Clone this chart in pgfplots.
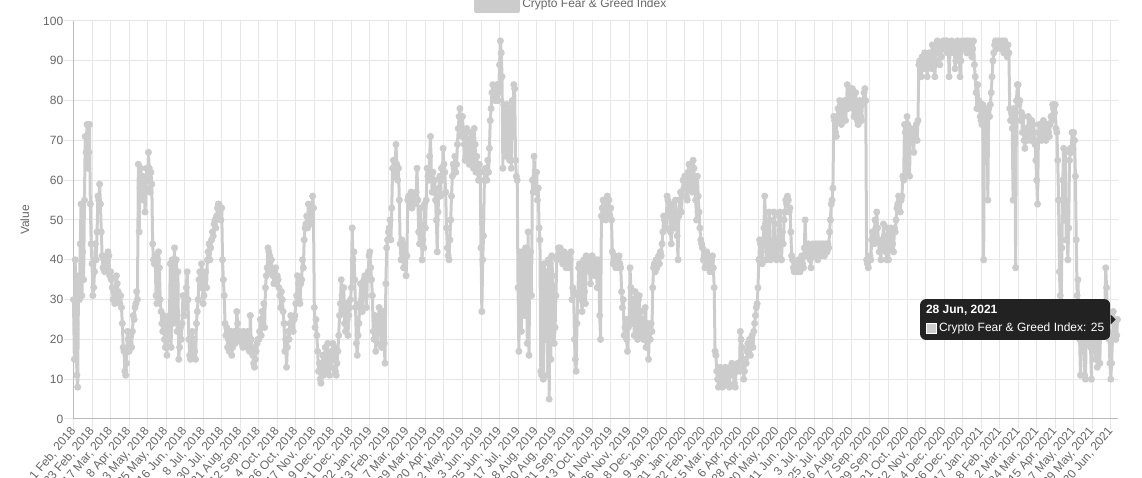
\documentclass[border=0pt]{standalone}
\usepackage{fontspec}
\setmainfont{Liberation Sans}
\usepackage{pgfplots}
\usepackage{pgfplotstable}
\pgfplotsset{compat=1.18}
\definecolor{txt}{HTML}{666666}
\definecolor{grd}{HTML}{E6E6E6}
\definecolor{axl}{HTML}{BBBBBB}
\definecolor{lg}{RGB}{204,204,205}
\definecolor{ttbg}{HTML}{222222}
\setlength{\fboxsep}{0pt}
\setlength{\fboxrule}{0.75pt}
\pgfplotstableread[header=false,row sep=\\]{
30\\15\\40\\24\\11\\8\\36\\30\\44\\54\\31\\42\\35\\55\\71\\67\\74\\63\\67\\74\\54\\44\\
39\\31\\33\\37\\44\\40\\47\\56\\55\\59\\54\\47\\41\\38\\40\\37\\38\\41\\40\\42\\41\\36\\
37\\35\\33\\30\\32\\29\\31\\36\\34\\32\\30\\29\\31\\28\\24\\18\\17\\12\\11\\14\\22\\20\\
17\\19\\21\\18\\22\\26\\25\\28\\29\\32\\30\\64\\47\\58\\63\\56\\61\\55\\60\\52\\58\\63\\
60\\67\\63\\57\\62\\59\\44\\40\\39\\41\\31\\29\\40\\42\\38\\30\\27\\24\\22\\26\\20\\18\\
25\\16\\20\\22\\26\\39\\18\\40\\24\\38\\43\\25\\40\\22\\37\\15\\18\\23\\20\\24\\31\\26\\
26\\30\\33\\37\\30\\20\\16\\15\\18\\22\\16\\20\\17\\15\\24\\27\\30\\35\\37\\33\\39\\36\\
29\\31\\35\\37\\33\\40\\42\\44\\40\\43\\45\\47\\46\\49\\50\\48\\51\\53\\54\\54\\52\\50\\
53\\40\\35\\31\\24\\21\\23\\18\\20\\17\\19\\22\\16\\18\\20\\22\\19\\21\\27\\24\\20\\22\\
20\\21\\19\\18\\22\\20\\19\\21\\18\\22\\19\\17\\26\\20\\18\\16\\14\\13\\15\\17\\19\\20\\
20\\22\\25\\21\\27\\24\\29\\23\\33\\36\\38\\43\\42\\41\\37\\40\\37\\36\\34\\37\\38\\35\\
36\\35\\33\\31\\28\\32\\30\\27\\24\\17\\20\\13\\18\\22\\20\\24\\26\\23\\25\\22\\25\\26\\
29\\31\\36\\34\\30\\29\\34\\35\\40\\38\\45\\48\\49\\51\\48\\54\\50\\52\\49\\53\\56\\53\\
28\\23\\25\\21\\17\\12\\14\\10\\9\\13\\16\\11\\15\\18\\14\\12\\19\\14\\11\\16\\13\\17\\
19\\15\\18\\12\\11\\14\\17\\21\\26\\29\\35\\31\\27\\33\\24\\22\\29\\25\\21\\26\\28\\30\\
33\\48\\40\\42\\35\\28\\19\\16\\21\\24\\29\\34\\30\\27\\33\\35\\36\\31\\28\\35\\37\\41\\
42\\38\\35\\31\\22\\20\\26\\17\\21\\19\\25\\28\\26\\22\\18\\23\\27\\19\\14\\34\\43\\45\\
47\\48\\50\\45\\53\\63\\65\\61\\62\\69\\64\\60\\63\\55\\44\\40\\45\\43\\38\\44\\42\\36\\
41\\55\\56\\54\\55\\57\\53\\55\\56\\54\\55\\57\\63\\55\\47\\44\\53\\47\\40\\45\\43\\54\\
48\\55\\63\\61\\60\\66\\71\\62\\57\\62\\57\\60\\55\\50\\42\\52\\58\\61\\56\\63\\60\\68\\
64\\62\\57\\48\\43\\41\\40\\45\\50\\56\\61\\64\\63\\66\\62\\64\\69\\73\\76\\78\\74\\71\\
76\\72\\69\\65\\66\\73\\70\\67\\64\\69\\72\\66\\64\\63\\73\\69\\62\\66\\63\\60\\64\\62\\
43\\27\\40\\46\\60\\63\\62\\60\\65\\62\\68\\75\\78\\82\\84\\81\\83\\80\\82\\84\\80\\82\\
89\\95\\92\\86\\63\\79\\72\\70\\66\\79\\69\\75\\65\\78\\63\\80\\71\\84\\83\\65\\61\\60\\
33\\17\\42\\40\\22\\42\\36\\41\\26\\43\\42\\19\\47\\16\\40\\42\\31\\60\\57\\66\\61\\57\\
62\\55\\58\\48\\45\\12\\11\\38\\10\\39\\32\\20\\37\\11\\40\\5\\39\\15\\41\\36\\27\\19\\
23\\31\\40\\41\\43\\42\\43\\41\\40\\39\\41\\42\\39\\38\\40\\41\\38\\39\\40\\42\\30\\33\\
32\\20\\15\\12\\24\\31\\38\\39\\36\\30\\27\\31\\40\\32\\29\\41\\38\\39\\40\\37\\34\\38\\
41\\40\\39\\36\\40\\38\\33\\40\\37\\26\\20\\51\\53\\55\\52\\54\\50\\53\\56\\52\\55\\51\\
53\\50\\42\\39\\40\\41\\38\\39\\38\\40\\41\\39\\38\\32\\28\\30\\21\\23\\25\\20\\17\\23\\
25\\38\\33\\28\\24\\30\\21\\32\\26\\23\\20\\30\\31\\22\\27\\21\\25\\20\\23\\28\\18\\21\\
24\\15\\22\\20\\24\\22\\33\\38\\39\\37\\40\\38\\40\\41\\39\\42\\41\\44\\47\\51\\50\\48\\
48\\56\\55\\53\\51\\47\\44\\53\\54\\51\\48\\55\\50\\46\\40\\51\\55\\57\\52\\56\\60\\58\\
61\\59\\56\\55\\62\\64\\60\\58\\62\\57\\65\\63\\58\\55\\50\\61\\56\\52\\48\\45\\44\\43\\
40\\41\\38\\39\\42\\41\\40\\39\\37\\38\\40\\41\\38\\33\\17\\16\\12\\10\\8\\11\\13\\9\\
12\\8\\10\\11\\13\\9\\10\\12\\11\\8\\13\\12\\14\\11\\12\\9\\8\\13\\12\\14\\13\\12\\
22\\20\\18\\13\\10\\12\\15\\14\\17\\19\\18\\20\\16\\19\\21\\18\\22\\24\\26\\28\\29\\33\\
40\\45\\44\\42\\39\\45\\48\\56\\49\\40\\44\\41\\52\\50\\40\\44\\42\\41\\52\\49\\43\\40\\
41\\43\\51\\52\\45\\40\\47\\44\\50\\52\\55\\54\\56\\55\\52\\53\\47\\41\\40\\38\\37\\39\\
38\\37\\39\\40\\38\\37\\40\\41\\39\\38\\43\\50\\42\\41\\43\\44\\41\\40\\38\\42\\44\\43\\
41\\43\\44\\42\\40\\44\\43\\41\\44\\42\\43\\44\\41\\43\\44\\42\\44\\43\\47\\50\\54\\55\\
58\\76\\75\\72\\71\\76\\78\\75\\80\\79\\74\\77\\78\\76\\80\\75\\78\\84\\78\\80\\83\\79\\
81\\83\\78\\76\\80\\82\\79\\75\\74\\78\\80\\76\\75\\79\\80\\82\\83\\80\\40\\39\\38\\40\\
41\\40\\45\\47\\46\\44\\50\\48\\52\\48\\45\\42\\44\\40\\45\\43\\49\\46\\44\\42\\40\\48\\
40\\43\\45\\48\\46\\44\\42\\48\\47\\50\\53\\54\\56\\55\\52\\55\\56\\61\\60\\74\\72\\61\\
76\\74\\72\\61\\73\\70\\71\\72\\67\\73\\72\\74\\70\\75\\89\\90\\88\\86\\91\\88\\90\\92\\
88\\90\\86\\91\\92\\89\\90\\88\\94\\91\\93\\86\\90\\94\\95\\93\\92\\89\\94\\91\\93\\95\\
94\\95\\93\\95\\92\\94\\86\\92\\94\\95\\93\\92\\94\\88\\90\\93\\95\\94\\92\\86\\90\\94\\
95\\94\\93\\95\\94\\92\\95\\93\\94\\95\\94\\91\\93\\95\\89\\86\\82\\78\\84\\80\\78\\76\\
75\\74\\79\\40\\76\\78\\74\\76\\55\\78\\76\\79\\82\\86\\90\\92\\94\\95\\93\\94\\95\\94\\
95\\94\\93\\95\\94\\92\\95\\94\\93\\91\\94\\92\\78\\75\\77\\73\\55\\78\\76\\38\\80\\84\\
84\\79\\80\\75\\77\\72\\76\\70\\68\\71\\73\\70\\76\\72\\73\\70\\75\\71\\74\\72\\69\\65\\
60\\54\\70\\74\\72\\73\\70\\71\\75\\73\\72\\70\\74\\73\\72\\71\\74\\76\\75\\79\\78\\77\\
79\\73\\72\\65\\55\\37\\31\\27\\43\\60\\68\\50\\67\\45\\52\\40\\48\\65\\68\\67\\72\\68\\
72\\70\\61\\45\\31\\35\\27\\20\\11\\22\\26\\18\\21\\11\\10\\24\\27\\25\\19\\21\\18\\10\\
21\\27\\25\\18\\15\\20\\13\\27\\22\\14\\24\\21\\25\\27\\23\\28\\38\\33\\26\\22\\20\\14\\
10\\14\\20\\27\\25\\22\\20\\21\\25\\
}\fgdata
\begin{document}
\begin{tikzpicture}
\path[use as bounding box] (0,0) rectangle (856.5pt,358.5pt);
\begin{axis}[
  at={(55.125pt,44.25pt)}, anchor=south west,
  scale only axis, width=783pt, height=298.5pt,
  xmin=0, xmax=1240, ymin=0, ymax=100,
  xtick={0,22,...,1232},
  xticklabels={{1 Feb, 2018},{23 Feb, 2018},{17 Mar, 2018},{8 Apr, 2018},{3 May, 2018},{25 May, 2018},{16 Jun, 2018},{8 Jul, 2018},{30 Jul, 2018},{21 Aug, 2018},{12 Sep, 2018},{4 Oct, 2018},{26 Oct, 2018},{17 Nov, 2018},{9 Dec, 2018},{31 Dec, 2018},{22 Jan, 2019},{13 Feb, 2019},{7 Mar, 2019},{29 Mar, 2019},{20 Apr, 2019},{12 May, 2019},{3 Jun, 2019},{25 Jun, 2019},{17 Jul, 2019},{8 Aug, 2019},{30 Aug, 2019},{21 Sep, 2019},{13 Oct, 2019},{4 Nov, 2019},{26 Nov, 2019},{18 Dec, 2019},{9 Jan, 2020},{31 Jan, 2020},{22 Feb, 2020},{15 Mar, 2020},{6 Apr, 2020},{28 Apr, 2020},{20 May, 2020},{11 Jun, 2020},{3 Jul, 2020},{25 Jul, 2020},{16 Aug, 2020},{7 Sep, 2020},{29 Sep, 2020},{21 Oct, 2020},{12 Nov, 2020},{4 Dec, 2020},{26 Dec, 2020},{17 Jan, 2021},{8 Feb, 2021},{2 Mar, 2021},{24 Mar, 2021},{15 Apr, 2021},{7 May, 2021},{29 May, 2021},{20 Jun, 2021}},
  ytick={0,10,...,100},
  grid=major, major grid style={grd, line width=0.75pt},
  axis x line*=bottom, axis y line*=left,
  axis line style={axl, line width=0.75pt, -},
  tick align=outside, major tick length=7.5pt,
  tick style={grd, line width=0.75pt},
  ticklabel style={font=\fontsize{9}{10}\selectfont, text=txt},
  /pgf/number format/assume math mode=true,
  xticklabel style={rotate=50, anchor=east, inner sep=0pt},
  yticklabel style={anchor=east, inner sep=0pt},
  ylabel={Value},
  ylabel style={font=\fontsize{9}{10}\selectfont, text=txt, at={(axis description cs:-0.0465,0.5)}, anchor=center},
  clip=false,
  legend style={at={(0.4768,1)}, anchor=south, yshift=6pt, draw=none, fill=none, inner sep=0pt, font=\fontsize{9}{10}\selectfont, text=txt, legend cell align=left},
  legend image code/.code={\fill[lg] (0pt,-5.25pt) rectangle (32.25pt,5.25pt);},
]
\addplot[color=lg, line width=2.25pt, line join=round, mark=*, mark size=2.25pt,
  mark options={fill=lg, draw=lg, line width=0.75pt}]
  table[x expr=\coordindex, y index=0] {\fgdata};
\addlegendentry{Crypto Fear \& Greed Index}
\coordinate (hov) at (axis cs:1240,25);
\end{axis}
\node[fill=ttbg, rounded corners=4.5pt, inner xsep=4.5pt, inner ysep=4.5pt, anchor=east, align=left, text=white, font=\fontsize{9}{13.5}\selectfont] (tt) at ([xshift=-5.25pt]hov) {\textbf{28 Jun, 2021}\\\raisebox{-1pt}{\fcolorbox{white}{lg}{\rule{0pt}{6.75pt}\rule{6.75pt}{0pt}}}\hspace{1.5pt}Crypto Fear \& Greed Index: 25};
\fill[ttbg] ([yshift=3.75pt]tt.east) -- ([xshift=3.75pt]tt.east) -- ([yshift=-3.75pt]tt.east) -- cycle;
\end{tikzpicture}
\end{document}
